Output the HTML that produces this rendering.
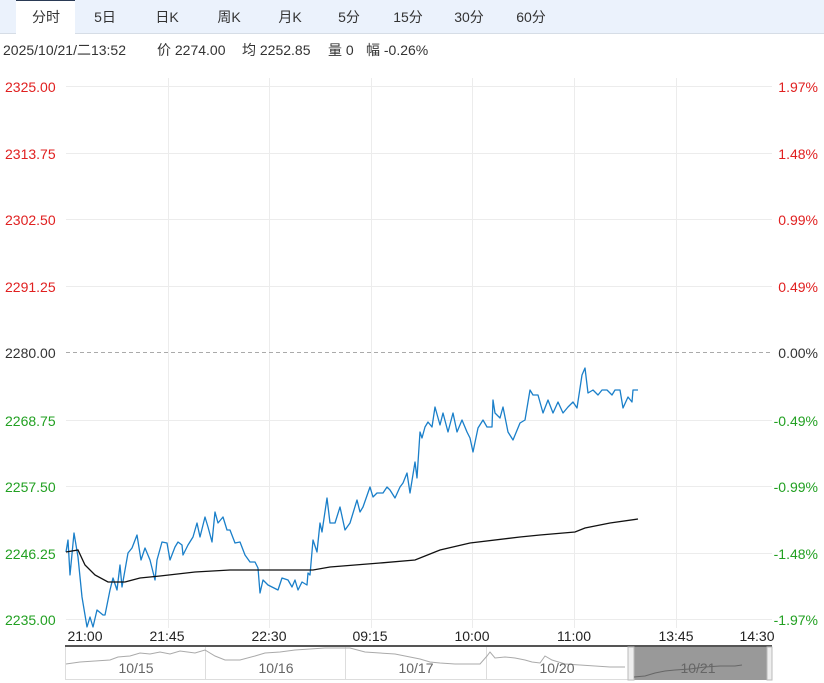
<!DOCTYPE html>
<html><head><meta charset="utf-8"><style>
body{margin:0;width:824px;height:683px;background:#fff;overflow:hidden;font-family:"Liberation Sans","Noto Sans CJK SC",sans-serif}
svg{position:absolute;left:0;top:0}
</style></head><body>
<svg width="824" height="683" viewBox="0 0 824 683" font-family="Liberation Sans, Noto Sans CJK SC, sans-serif">
<rect x="0" y="0" width="824" height="33" fill="#ebf2fc"/>
<line x1="0" y1="33.5" x2="824" y2="33.5" stroke="#d6dde6"/>
<rect x="16" y="0" width="59" height="34" fill="#fff"/>
<line x1="16" y1="0.5" x2="75" y2="0.5" stroke="#2a3a55" stroke-width="1"/>
<g font-size="14" fill="#333" text-anchor="middle">
<text x="46" y="22">分时</text><text x="105" y="22">5日</text><text x="167" y="22">日K</text>
<text x="229" y="22">周K</text><text x="290" y="22">月K</text><text x="349" y="22">5分</text>
<text x="408" y="22">15分</text><text x="469" y="22">30分</text><text x="531" y="22">60分</text>
</g>
<g font-size="14" fill="#333">
<text x="3" y="55">2025/10/21/二13:52</text>
<text x="157" y="55">价 2274.00</text>
<text x="242" y="55">均 2252.85</text>
<text x="328" y="55">量 0</text>
<text x="366" y="55">幅 -0.26%</text>
</g>
<g stroke="#ececec" stroke-width="1">
<line x1="66" y1="86.5" x2="772" y2="86.5"/><line x1="66" y1="153.5" x2="772" y2="153.5"/>
<line x1="66" y1="219.5" x2="772" y2="219.5"/><line x1="66" y1="286.5" x2="772" y2="286.5"/>
<line x1="66" y1="420.5" x2="772" y2="420.5"/><line x1="66" y1="486.5" x2="772" y2="486.5"/>
<line x1="66" y1="553.5" x2="772" y2="553.5"/><line x1="66" y1="619.5" x2="772" y2="619.5"/>
<line x1="168.5" y1="78" x2="168.5" y2="628"/><line x1="269.5" y1="78" x2="269.5" y2="628"/>
<line x1="371.5" y1="78" x2="371.5" y2="628"/><line x1="472.5" y1="78" x2="472.5" y2="628"/>
<line x1="574.5" y1="78" x2="574.5" y2="628"/><line x1="676.5" y1="78" x2="676.5" y2="628"/>
</g>
<line x1="66" y1="352.5" x2="772" y2="352.5" stroke="#aaa" stroke-dasharray="4,3"/>
<g font-size="14">
<g fill="#e02020"><text x="5" y="92">2325.00</text><text x="5" y="159">2313.75</text><text x="5" y="225">2302.50</text><text x="5" y="292">2291.25</text></g>
<text x="5" y="358" fill="#333">2280.00</text>
<g fill="#22a022"><text x="5" y="426">2268.75</text><text x="5" y="492">2257.50</text><text x="5" y="559">2246.25</text><text x="5" y="625">2235.00</text></g>
<g text-anchor="end"><g fill="#e02020"><text x="818" y="92">1.97%</text><text x="818" y="159">1.48%</text><text x="818" y="225">0.99%</text><text x="818" y="292">0.49%</text></g>
<text x="818" y="358" fill="#333">0.00%</text>
<g fill="#22a022"><text x="818" y="426">-0.49%</text><text x="818" y="492">-0.99%</text><text x="818" y="559">-1.48%</text><text x="818" y="625">-1.97%</text></g></g>
<g fill="#222" text-anchor="middle"><text x="85" y="641">21:00</text><text x="167" y="641">21:45</text><text x="269" y="641">22:30</text><text x="370" y="641">09:15</text><text x="472" y="641">10:00</text><text x="574" y="641">11:00</text><text x="676" y="641">13:45</text><text x="757" y="641">14:30</text></g>
</g>
<polyline fill="none" stroke="#1a7fc9" stroke-width="1.3" stroke-linejoin="round" points="66,552 68,540 70,575 74,533 78,557 82,597 87,627 90,617 93,627 97,610 103,615 105,615 110,590 113,578 117,590 120,565 122,587 128,553 132,548 137,535 141,560 145,548 150,560 155,580 157,560 162,542 167,543 170,560 175,547 178,542 182,545 183,555 188,545 193,537 197,523 200,537 205,517 208,527 212,542 215,512 218,523 223,517 227,530 230,530 235,543 240,542 245,555 250,562 255,562 258,568 260,593 263,580 268,585 278,590 282,578 288,580 292,587 295,580 298,590 302,582 307,585 308,573 310,575 313,540 317,552 320,523 322,532 327,498 330,523 335,523 340,507 345,530 350,523 357,500 360,512 363,507 370,487 373,497 377,493 383,493 387,487 390,490 395,498 400,487 403,483 407,473 410,493 415,462 417,478 420,432 422,438 425,427 428,422 432,427 435,407 440,425 443,413 448,432 453,413 457,432 462,420 467,432 470,438 473,452 478,428 483,420 487,427 492,427 493,400 495,413 500,418 503,407 508,432 513,440 520,423 525,420 530,390 533,395 538,395 543,413 548,400 553,413 558,402 563,413 568,407 573,402 577,408 582,375 585,368 588,393 593,390 598,395 602,390 607,390 612,395 615,390 620,390 623,408 628,397 632,402 633,390 638,390"/>
<polyline fill="none" stroke="#111" stroke-width="1.3" points="66,552 78,550 85,565 95,575 108,582 125,582 140,578 160,576 195,572 230,570 260,570 300,570 313,570 330,567 380,563 415,560 425,556 440,550 470,543 520,537 540,535 575,532 585,528 610,523 638,519"/>
<rect x="65.5" y="645.5" width="706" height="34" fill="#fff" stroke="#ddd"/>
<line x1="65" y1="646" x2="772" y2="646" stroke="#555" stroke-width="2"/>
<g stroke="#ddd"><line x1="205.5" y1="647" x2="205.5" y2="680"/><line x1="345.5" y1="647" x2="345.5" y2="680"/><line x1="486.5" y1="647" x2="486.5" y2="680"/></g>
<rect x="634" y="647" width="133" height="33" fill="#999"/>
<rect x="628" y="647" width="6" height="33" fill="#eee" stroke="#bbb"/>
<rect x="767" y="647" width="5" height="33" fill="#eee" stroke="#bbb"/>
<polyline fill="none" stroke="#aaa" stroke-width="1" points="66,664 80,662 95,661 110,660 118,657 130,656 140,653 150,654 160,652 170,654 180,651 195,653 205,650 215,656 225,660 240,660 255,656 265,653 280,652 295,650 310,649 325,648 340,648 350,648 365,652 380,653 395,654 410,657 420,659 430,662 440,663 455,664 470,664 480,664 487,656 490,652 495,658 505,657 515,658 525,660 532,662 540,663 545,656 552,660 565,664 580,665 595,666 610,667 625,667"/>
<polyline fill="none" stroke="#666" stroke-width="1" points="634,677 645,676 655,673 665,671 675,670 690,669 705,667 720,666 735,666 742,665"/>
<g font-size="14" fill="#666" text-anchor="middle"><text x="136" y="673">10/15</text><text x="276" y="673">10/16</text><text x="416" y="673">10/17</text><text x="557" y="673">10/20</text><text x="698" y="673">10/21</text></g>
</svg>
</body></html>
